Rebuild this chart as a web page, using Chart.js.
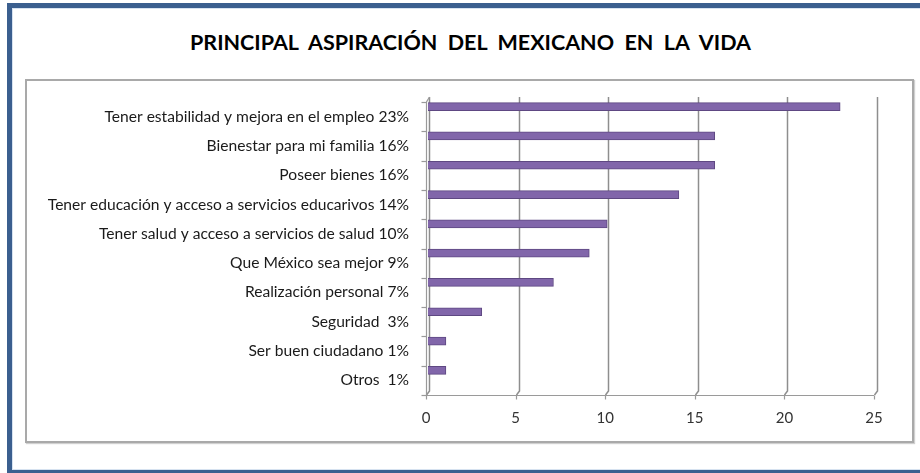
<!DOCTYPE html>
<html lang="es">
<head>
<meta charset="utf-8">
<script src="https://cdn.jsdelivr.net/npm/chart.js@4/dist/chart.umd.min.js"></script>
<style>
  html, body { margin: 0; padding: 0; background: #fff; }
  #wrap { position: relative; width: 920px; height: 473px; overflow: hidden; background: #fff; }
  #frame {
    position: absolute; left: 7px; top: 3px; width: 920px; height: 462px;
    border-top: 5px solid #3b5f8f; border-left: 5px solid #3b5f8f; border-bottom: 3px solid #3b5f8f;
    box-shadow: inset 1px 1px 0 #d6e2f0, inset 0 -1px 0 #d6e2f0;
  }
  #panel {
    position: absolute; left: 25px; top: 79px; width: 885px; height: 360px;
    border: 2px solid #a9a9a9; box-shadow: 1px 1px 1px #d0d0d0;
  }
  #title {
    position: absolute; left: 25px; width: 891px; top: 28px; text-align: center;
    font-family: Lato, "Liberation Sans", sans-serif; font-weight: bold; font-size: 21.5px;
    color: #000; white-space: pre; line-height: 28px;
  }
  canvas { position: absolute; left: 0; top: 0; }
</style>
</head>
<body>
<div id="wrap">
  <div id="frame"></div>
  <div id="panel"></div>
  <div id="title">PRINCIPAL  ASPIRACIÓN  DEL  MEXICANO  EN  LA  VIDA</div>
  <canvas id="chart" width="920" height="473"></canvas>
</div>
<script>
// Survey answers, top to bottom
const categories = [
  "Tener estabilidad y mejora en el empleo 23%",
  "Bienestar para mi familia 16%",
  "Poseer bienes 16%",
  "Tener educación y acceso a servicios educarivos 14%",
  "Tener salud y acceso a servicios de salud 10%",
  "Que México sea mejor 9%",
  "Realización personal 7%",
  "Seguridad  3%",
  "Ser buen ciudadano 1%",
  "Otros  1%"
];
const percentages = [23, 16, 16, 14, 10, 9, 7, 3, 1, 1];
const xTicks = [0, 5, 10, 15, 20, 25];

// depth of the pseudo-3D back wall
const DEPTH_X = 3, DEPTH_Y = 5;

// walls, gridlines and axis lines in a 3D-like style
const wallPlugin = {
  id: 'walls',
  beforeDatasetsDraw(chart) {
    const { ctx, chartArea: a, scales } = chart;
    const xs = scales.x, ys = scales.y;
    ctx.save();
    ctx.strokeStyle = '#8e8e8e';
    ctx.lineWidth = 1.5;
    // vertical gridlines on the back wall, bent towards the front axis at the floor
    xTicks.forEach(v => {
      const x = Math.round(xs.getPixelForValue(v)) + 0.5;
      ctx.beginPath();
      ctx.moveTo(x + DEPTH_X, a.top - DEPTH_Y);
      ctx.lineTo(x + DEPTH_X, a.bottom - DEPTH_Y + 1);
      ctx.lineTo(x, a.bottom);
      ctx.stroke();
    });
    // front left axis with category tick marks
    const lx = Math.round(a.left) + 0.5;
    ctx.strokeStyle = '#9a9a9a';
    ctx.lineWidth = 1.2;
    ctx.beginPath();
    ctx.moveTo(lx + DEPTH_X, a.top - DEPTH_Y);
    ctx.lineTo(lx, a.top);
    ctx.lineTo(lx, a.bottom);
    ctx.stroke();
    const n = ys.ticks.length;
    const band = (a.bottom - a.top) / n;
    for (let i = 0; i <= n; i++) {
      const y = Math.round(a.top + band * i) + 0.5;
      ctx.beginPath();
      ctx.moveTo(lx - 5, y);
      ctx.lineTo(lx, y);
      ctx.stroke();
    }
    // front bottom axis with value tick marks
    const by = Math.round(a.bottom) + 0.5;
    ctx.beginPath();
    ctx.moveTo(a.left, by);
    ctx.lineTo(xs.getPixelForValue(xTicks[xTicks.length - 1]), by);
    ctx.stroke();
    xTicks.forEach(v => {
      const x = Math.round(xs.getPixelForValue(v)) + 0.5;
      ctx.beginPath();
      ctx.moveTo(x, by);
      ctx.lineTo(x, by + 4);
      ctx.stroke();
    });
    ctx.restore();
    // bars sit at the back of each category slot
    ctx.save();
    ctx.translate(2, -10);
  },
  afterDatasetsDraw(chart) {
    chart.ctx.restore();
  }
};

new Chart(document.getElementById('chart'), {
  type: 'bar',
  data: {
    labels: categories,
    datasets: [{
      data: percentages,
      backgroundColor: '#8166aa',
      borderColor: '#5e4882',
      borderWidth: 1,
      barThickness: 8
    }]
  },
  options: {
    indexAxis: 'y',
    responsive: false,
    animation: false,
    devicePixelRatio: 1,
    layout: { padding: { top: 102, right: 46, bottom: 0, left: 0 } },
    plugins: { legend: { display: false }, tooltip: { enabled: false }, title: { display: false } },
    scales: {
      x: {
        type: 'linear',
        min: 0, max: 25,
        afterBuildTicks(scale) { scale.ticks = xTicks.map(v => ({ value: v })); },
        afterFit(scale) { scale.height = 78; },
        grid: { display: false, drawTicks: false },
        border: { display: false },
        ticks: {
          padding: 14,
          color: '#333333',
          font: { family: 'Lato, "Liberation Sans", sans-serif', size: 15 }
        }
      },
      y: {
        type: 'category',
        afterFit(scale) { scale.width = 426; },
        grid: { display: false, drawTicks: false },
        border: { display: false },
        ticks: {
          padding: 17,
          color: '#1a1a1a',
          autoSkip: false,
          font: { family: 'Lato, "Liberation Sans", sans-serif', size: 15.6 }
        }
      }
    }
  },
  plugins: [wallPlugin]
});
</script>
</body>
</html>
